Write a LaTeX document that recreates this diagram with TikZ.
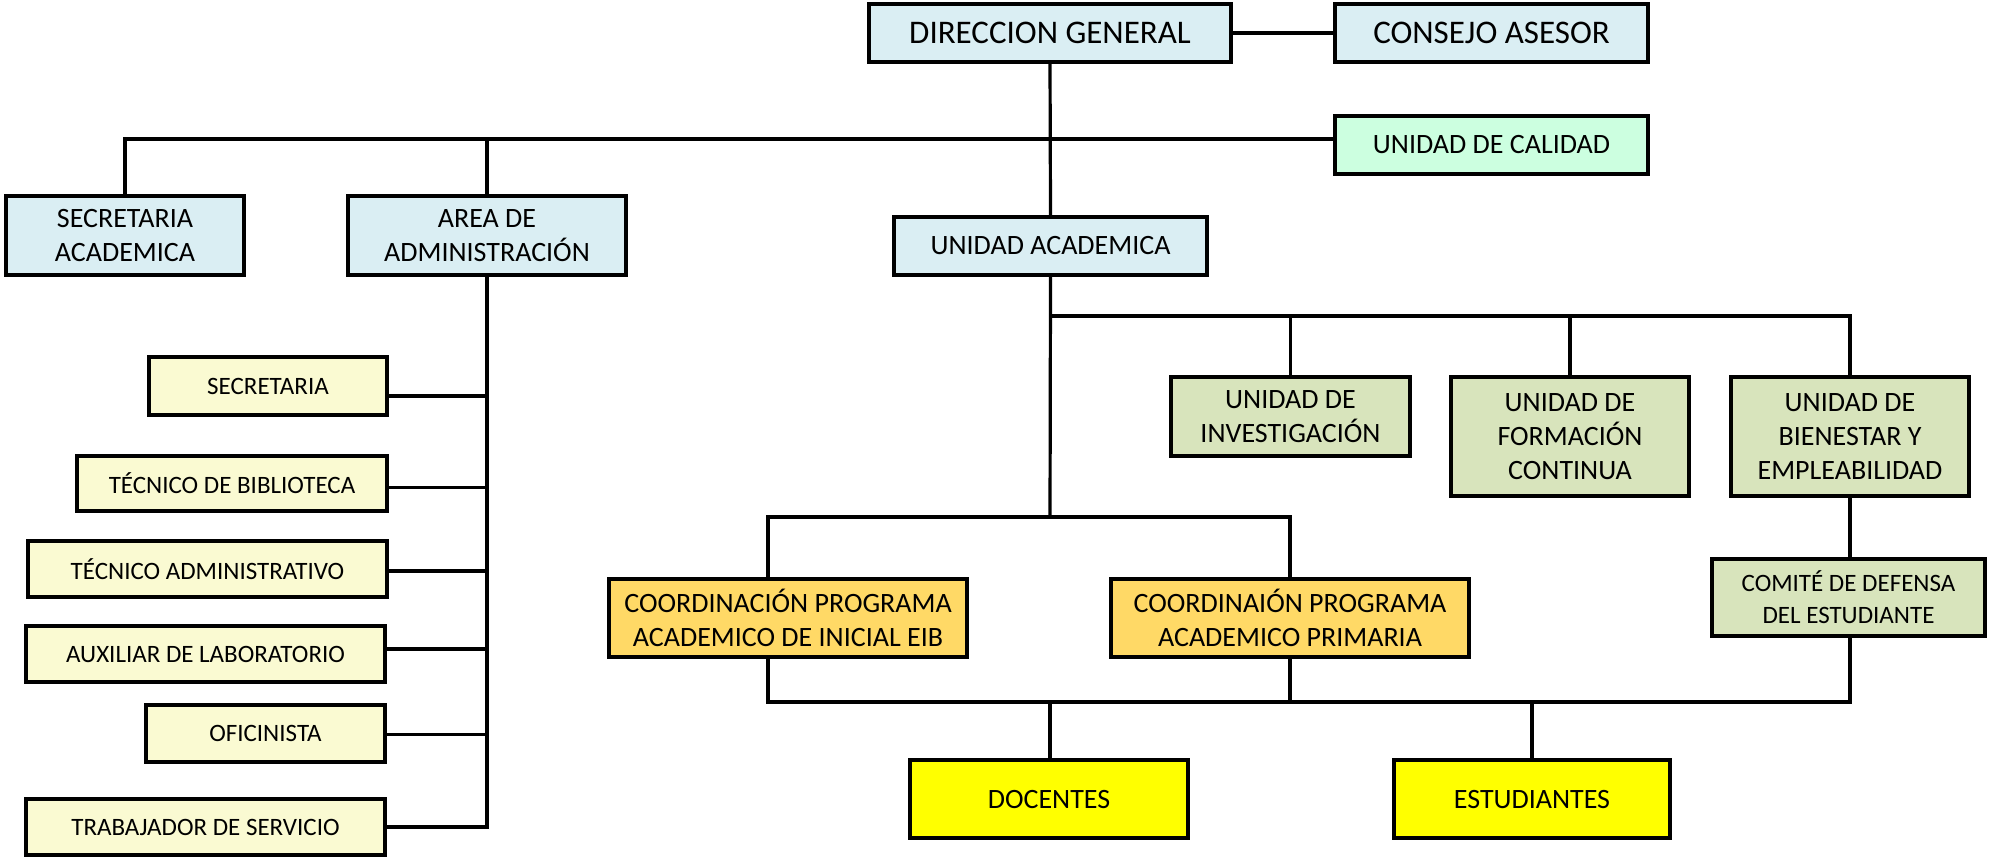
\documentclass[tikz,border=0pt]{standalone}
\usepackage{fontspec}
\setmainfont{Carlito}
\usetikzlibrary{calc}

\definecolor{celeste}{HTML}{DAEEF3}
\definecolor{menta}{HTML}{CCFFE0}
\definecolor{crema}{HTML}{FAFAD2}
\definecolor{oliva}{HTML}{D8E4BC}
\definecolor{naranja}{HTML}{FFD966}
\definecolor{amarillo}{HTML}{FFFF00}

\tikzset{
	box/.style={draw=black, line width=2pt, fill=#1, inner sep=0pt, align=center,
		font=\fontsize{14}{17}\selectfont},
	smallbox/.style={box=#1, font=\fontsize{12.5}{16}\selectfont},
	link/.style={line width=1.6pt},
}

\begin{document}
\begin{tikzpicture}[x=0.5pt,y=-0.5pt]
	\useasboundingbox (0,0) rectangle (1989,859);

	% top of the chart
	\node[box=celeste, minimum width=181pt, minimum height=29pt, font=\fontsize{16.5}{19}\selectfont] (DG) at (1050,33) {DIRECCION GENERAL};
	\node[box=celeste, minimum width=156.5pt, minimum height=29pt, font=\fontsize{16.5}{19}\selectfont] (CA) at (1491.5,33) {CONSEJO ASESOR};
	\node[box=menta, minimum width=156.5pt, minimum height=29pt] (UC) at (1491.5,145) {UNIDAD DE CALIDAD};
	\node[box=celeste, minimum width=119pt, minimum height=39.5pt] (SA) at (125,235.5) {SECRETARIA\\ACADEMICA};
	\node[box=celeste, minimum width=139pt, minimum height=39.5pt] (AA) at (487,235.5) {AREA DE\\ADMINISTRACIÓN};
	\node[box=celeste, minimum width=156.5pt, minimum height=29pt] (UA) at (1050.5,246) {UNIDAD ACADEMICA};

	% administration staff
	\node[smallbox=crema, minimum width=119pt, minimum height=29pt] (SEC) at (268,386) {SECRETARIA};
	\node[smallbox=crema, minimum width=155pt, minimum height=27.5pt] (BIB) at (232,483.5) {TÉCNICO DE BIBLIOTECA};
	\node[smallbox=crema, minimum width=179.5pt, minimum height=28pt] (ADM) at (207.5,569) {TÉCNICO ADMINISTRATIVO};
	\node[smallbox=crema, minimum width=179.5pt, minimum height=28pt] (LAB) at (205.5,654) {AUXILIAR DE LABORATORIO};
	\node[smallbox=crema, minimum width=119.5pt, minimum height=28.5pt] (OFI) at (265.5,733.5) {OFICINISTA};
	\node[smallbox=crema, minimum width=179.5pt, minimum height=28pt] (TS) at (205.5,827) {TRABAJADOR DE SERVICIO};

	% academic units
	\node[box=oliva, minimum width=119.5pt, minimum height=39.5pt] (UI) at (1290.5,416.5) {UNIDAD DE\\INVESTIGACIÓN};
	\node[box=oliva, minimum width=119pt, minimum height=59.5pt] (UF) at (1570,436.5) {UNIDAD DE\\FORMACIÓN\\CONTINUA};
	\node[box=oliva, minimum width=119pt, minimum height=59.5pt] (UBE) at (1850,436.5) {UNIDAD DE\\BIENESTAR Y\\EMPLEABILIDAD};
	\node[smallbox=oliva, minimum width=136.5pt, minimum height=38.5pt] (CD) at (1848.5,597.5) {COMITÉ DE DEFENSA\\DEL ESTUDIANTE};
	\node[box=naranja, minimum width=179pt, minimum height=39pt] (CI) at (788,618) {COORDINACIÓN PROGRAMA\\ACADEMICO DE INICIAL EIB};
	\node[box=naranja, minimum width=179pt, minimum height=39pt] (CP) at (1290,618) {COORDINAIÓN PROGRAMA\\ACADEMICO PRIMARIA};
	\node[box=amarillo, minimum width=139pt, minimum height=39pt] (DOC) at (1049,799) {DOCENTES};
	\node[box=amarillo, minimum width=138pt, minimum height=39pt] (EST) at (1532,799) {ESTUDIANTES};

	% bus lines
	\coordinate (busA) at (1050,139);
	\coordinate (busB) at (1050,316);
	\coordinate (busC) at (1050,517);
	\coordinate (busD) at (1050,702);

	\draw[link] (DG.east) -- (CA.west);
	\draw[link] (DG.south) -- (UA.north);
	\draw[link] (SA.north) |- (busA) -- (busA -| UC.west);
	\draw[link] (AA.north) -- (AA.north |- busA);

	% administration column
	\draw[link] (AA.south) -- (AA.south |- TS.east) -- (TS.east);
	\foreach \n/\dy in {SEC/10,BIB/4,ADM/2,LAB/-5,OFI/1}
		\draw[link] ($(\n.east)+(0,\dy)$) -- ($(\n.east -| AA.south)+(0,\dy)$);

	% academic side
	\draw[link] (UA.south) -- (busC);
	\draw[link] (busB) -| (UBE.north);
	\draw[link] (UI.north) -- (UI.north |- busB);
	\draw[link] (UF.north) -- (UF.north |- busB);
	\draw[link] (UBE.south) -- (UBE.south |- CD.north);
	\draw[link] ($(CI.north)+(-20,0)$) |- (busC) -| (CP.north);
	\draw[link] ($(CI.south)+(-20,0)$) |- (busD) -| (UBE.south |- CD.south);
	\draw[link] (CP.south) -- (CP.south |- busD);
	\draw[link] (busD) -- (busD |- DOC.north);
	\draw[link] (EST.north) -- (EST.north |- busD);
\end{tikzpicture}
\end{document}
